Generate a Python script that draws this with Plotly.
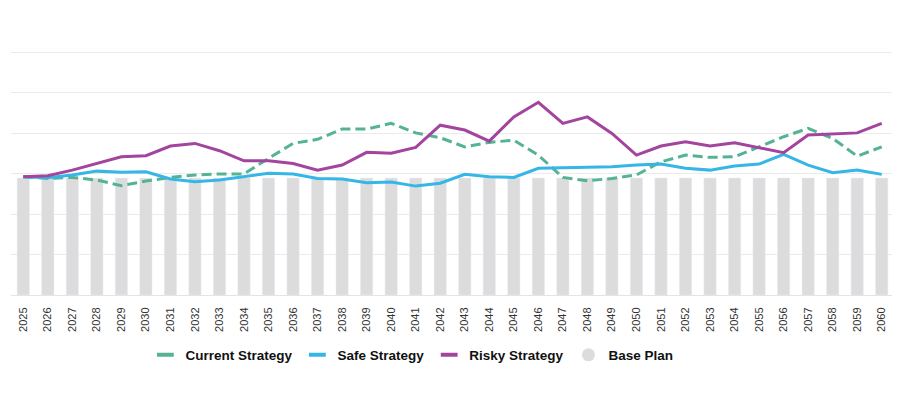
import plotly.graph_objects as go

years = [str(y) for y in range(2025, 2061)]

base_plan = [57.8] * 36

current_strategy = [58.4, 57.6, 58.1, 56.8, 54.0, 56.3, 58.1, 59.3, 59.8, 59.8,
                    67.5, 74.9, 76.9, 82.0, 82.0, 84.8, 80.1, 77.7, 73.2, 75.4,
                    76.5, 69.1, 58.1, 56.4, 57.6, 59.3, 65.8, 69.1, 68.0, 68.3,
                    73.2, 78.2, 82.3, 77.4, 68.6, 73.2]

safe_strategy = [58.4, 57.9, 59.3, 61.2, 60.6, 60.9, 57.3, 55.9, 56.8, 58.4,
                 60.1, 59.8, 57.6, 57.3, 55.5, 55.8, 53.8, 55.2, 59.6, 58.4,
                 58.1, 62.6, 62.9, 63.2, 63.4, 64.2, 64.7, 62.6, 61.7, 63.7,
                 64.7, 69.5, 64.2, 60.4, 61.7, 59.6]

risky_strategy = [58.4, 58.9, 61.7, 65.0, 68.3, 68.8, 73.6, 74.9, 71.3, 66.3,
                  66.3, 65.0, 61.7, 64.2, 70.5, 70.0, 72.9, 83.9, 81.5, 76.0,
                  88.0, 95.2, 84.8, 88.0, 79.8, 69.1, 73.6, 75.7, 73.6, 75.2,
                  72.9, 70.3, 79.0, 79.5, 80.1, 84.8]

C_CUR = "#55b395"
C_SAFE = "#35b6e6"
C_RISKY = "#a3449e"
C_BASE = "#dcdcdc"

fig = go.Figure()

fig.add_trace(go.Bar(x=years, y=base_plan, name="Base Plan", marker_color=C_BASE,
                     showlegend=False))
fig.add_trace(go.Scatter(x=years, y=current_strategy, mode="lines", name="Current Strategy",
                         line=dict(color=C_CUR, width=3, dash="10px,5px"), showlegend=False))
fig.add_trace(go.Scatter(x=years, y=safe_strategy, mode="lines", name="Safe Strategy",
                         line=dict(color=C_SAFE, width=3), showlegend=False))
fig.add_trace(go.Scatter(x=years, y=risky_strategy, mode="lines", name="Risky Strategy",
                         line=dict(color=C_RISKY, width=3), showlegend=False))

# legend entries
for name, col, sym, size in [("Current Strategy", C_CUR, "line-ew-open", 12),
                             ("Safe Strategy", C_SAFE, "line-ew-open", 12),
                             ("Risky Strategy", C_RISKY, "line-ew-open", 12),
                             ("Base Plan", C_BASE, "circle", 13)]:
    mk = dict(symbol=sym, size=size, color=col)
    if sym.startswith("line"):
        mk["line"] = dict(color=col, width=4)
    fig.add_trace(go.Scatter(x=[None], y=[None], mode="markers", name=name, marker=mk,
                             showlegend=True))

fig.update_layout(
    width=892, height=387,
    margin=dict(l=3, r=6, t=34, b=100),
    paper_bgcolor="white", plot_bgcolor="white",
    bargap=0.5,
    font=dict(family="Liberation Sans, Arial, sans-serif", color="#222"),
    legend=dict(orientation="h", x=0.454, xanchor="center", y=-0.176, yanchor="top",
                font=dict(size=13.5, family="Liberation Sans, Arial, sans-serif", color="#111",
                          weight="bold"),
                itemsizing="trace"),
    xaxis=dict(type="category", tickangle=-90, showgrid=False, showline=True,
               linecolor="#e3e3ea", linewidth=1, ticks="outside", ticklen=7,
               tickcolor="rgba(0,0,0,0)", automargin=False,
               tickfont=dict(size=11, color="#333")),
    yaxis=dict(range=[0, 125], dtick=20, showticklabels=False, showgrid=True,
               gridcolor="#ebebeb", gridwidth=1, zeroline=False),
    hovermode=False,
)

fig.write_html("out.html")
